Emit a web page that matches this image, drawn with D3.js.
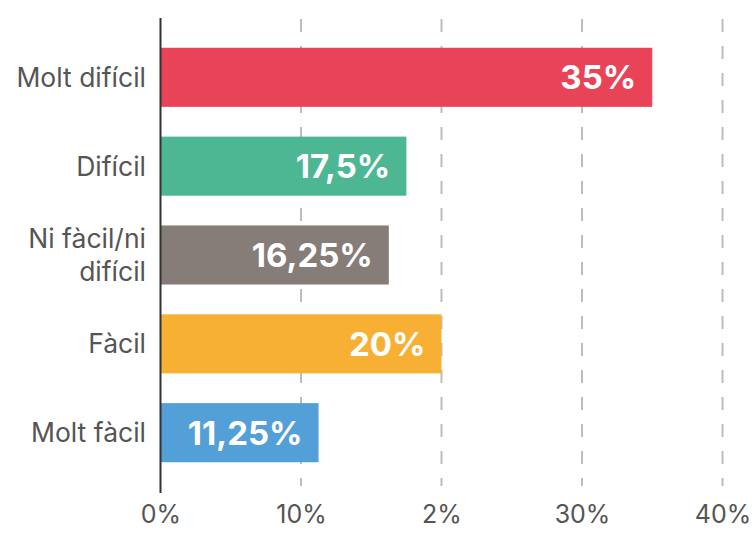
<!DOCTYPE html>
<html><head><meta charset="utf-8">
<script src="https://cdn.jsdelivr.net/npm/d3@7"></script>
<style>body{margin:0;background:#fff}svg{display:block}text{font-family:Inter,"Noto Sans",sans-serif}</style>
</head><body><svg id="c" width="754" height="538"></svg>
<script>
const categories = ["Molt difícil", "Difícil", "Ni fàcil/ni difícil", "Fàcil", "Molt fàcil"];
const labelLines = [["Molt difícil"], ["Difícil"], ["Ni fàcil/ni", "difícil"], ["Fàcil"], ["Molt fàcil"]];
const values = [35, 17.5, 16.25, 20, 11.25];
const valueLabels = ["35%", "17,5%", "16,25%", "20%", "11,25%"];
const colors = ["#E84357", "#4DB794", "#877D78", "#F7B034", "#539FD8"];
const tickValues = [0, 10, 20, 30, 40];
const tickLabels = ["0%", "10%", "2%", "30%", "40%"];

const svg = d3.select("#c");
const x = d3.scaleLinear().domain([0, 40]).range([160.5, 722.5]);
const y = d3.scaleBand().domain(categories).range([18, 492]).paddingInner(0.335).paddingOuter(0.335);

// gridlines
svg.append("g").selectAll("line").data(tickValues.slice(1)).join("line")
  .attr("x1", d => x(d)).attr("x2", d => x(d))
  .attr("y1", 19).attr("y2", 486)
  .attr("stroke", "#bdbdbd").attr("stroke-width", 2)
  .attr("stroke-dasharray", "13,14");

// bars
svg.append("g").selectAll("rect").data(values).join("rect")
  .attr("x", x(0)).attr("y", (d, i) => y(categories[i]))
  .attr("width", d => x(d) - x(0)).attr("height", y.bandwidth())
  .attr("fill", (d, i) => colors[i]);

// value labels
svg.append("g").selectAll("text").data(values).join("text")
  .attr("x", d => x(d) - 16)
  .attr("y", (d, i) => y(categories[i]) + y.bandwidth() / 2)
  .attr("dy", "0.36em")
  .attr("text-anchor", "end")
  .attr("fill", "#fff").attr("font-weight", 700).attr("font-size", 33)
  .text((d, i) => valueLabels[i]);

// y axis line
svg.append("line").attr("x1", 160.5).attr("x2", 160.5).attr("y1", 18).attr("y2", 493)
  .attr("stroke", "#333").attr("stroke-width", 2);

// category labels
const cl = svg.append("g").selectAll("text").data(categories).join("text")
  .attr("text-anchor", "end").attr("fill", "#555").attr("font-size", 26.5)
  .attr("x", 146)
  .attr("y", (d, i) => y(d) + y.bandwidth() / 2);
cl.each(function(d, i) {
  const lines = labelLines[i];
  const t = d3.select(this);
  lines.forEach((ln, j) => {
    t.append("tspan").attr("x", 146)
      .attr("dy", j === 0 ? (0.36 - (lines.length - 1) * 0.62) + "em" : "1.24em")
      .text(ln);
  });
});

// x tick labels
const xAxis = d3.axisBottom(x).tickValues(tickValues).tickSize(0).tickFormat((d, i) => tickLabels[i]);
const gx = svg.append("g").attr("transform", "translate(0,502)").call(xAxis);
gx.select(".domain").remove();
gx.selectAll("text").attr("fill", "#555").attr("font-size", 25).attr("font-family", "Inter,'Noto Sans',sans-serif");
</script></body></html>
